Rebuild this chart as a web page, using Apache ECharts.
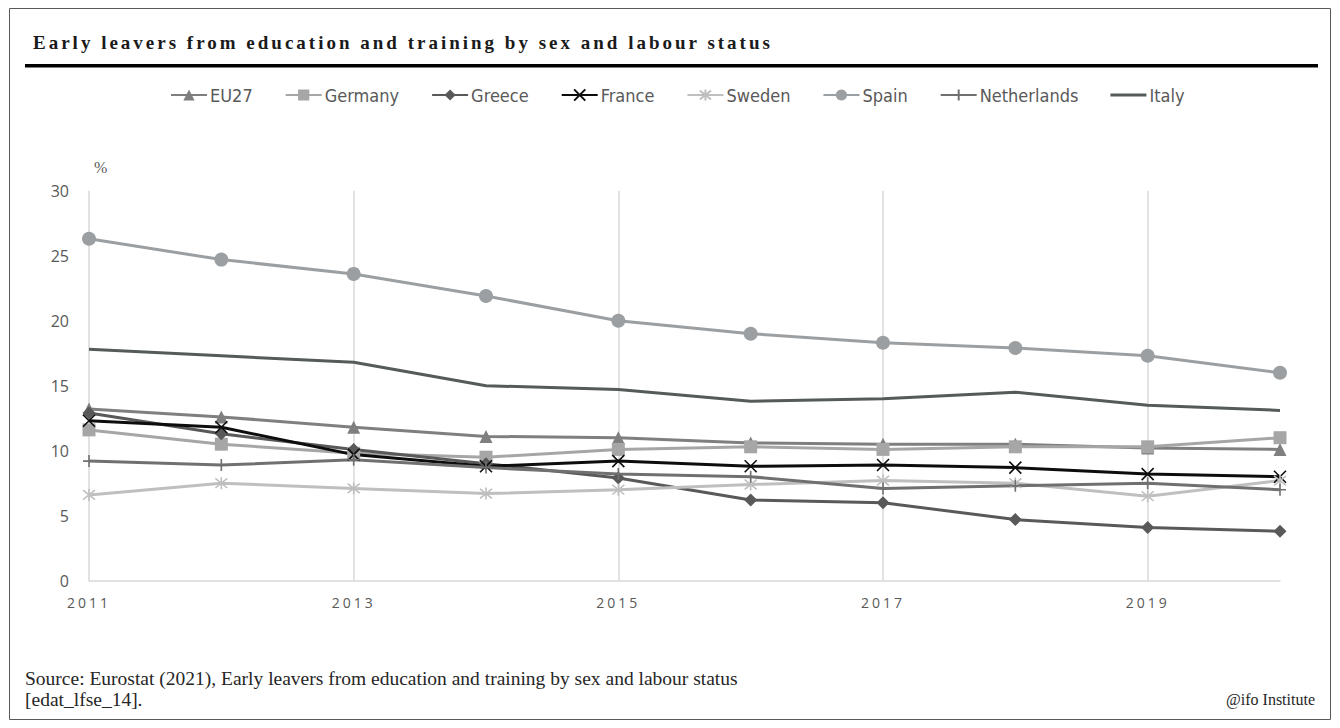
<!DOCTYPE html>
<html>
<head>
<meta charset="utf-8">
<script src="https://cdn.jsdelivr.net/npm/echarts@6/dist/echarts.min.js"></script>
<style>
html, body {margin: 0; padding: 0; background: #fff;}
#chart {width: 1340px; height: 728px;}
</style>
</head>
<body>
<div id="chart"></div>
<script>
// data (share of early leavers, %)
var years = ['2011', '2012', '2013', '2014', '2015', '2016', '2017', '2018', '2019', '2020'];
var eu27 = [13.2, 12.6, 11.8, 11.1, 11.0, 10.6, 10.5, 10.5, 10.2, 10.1];
var germany = [11.6, 10.5, 9.8, 9.5, 10.1, 10.3, 10.1, 10.3, 10.3, 11.0];
var greece = [12.9, 11.3, 10.1, 9.0, 7.9, 6.2, 6.0, 4.7, 4.1, 3.8];
var france = [12.3, 11.8, 9.7, 8.8, 9.2, 8.8, 8.9, 8.7, 8.2, 8.0];
var sweden = [6.6, 7.5, 7.1, 6.7, 7.0, 7.4, 7.7, 7.5, 6.5, 7.7];
var spain = [26.3, 24.7, 23.6, 21.9, 20.0, 19.0, 18.3, 17.9, 17.3, 16.0];
var netherlands = [9.2, 8.9, 9.3, 8.7, 8.2, 8.0, 7.1, 7.3, 7.5, 7.0];
var italy = [17.8, 17.3, 16.8, 15.0, 14.7, 13.8, 14.0, 14.5, 13.5, 13.1];

var titleText = 'Early leavers from education and training by sex and labour status';
var sourceLine1 = 'Source: Eurostat (2021), Early leavers from education and training by sex and labour status';
var sourceLine2 = '[edat_lfse_14].';
var creditText = '@ifo Institute';

var xMark = 'path://M0,0L10,10M10,0L0,10';
var starMark = 'path://M1,1L9,9M9,1L1,9M5,0L5,10';
var plusMark = 'path://M5,0L5,10M0,5L10,5';

function lineSeries(name, data, color, symbol, size, stroked) {
    return {
        name: name,
        type: 'line',
        data: data,
        symbol: symbol,
        symbolSize: size,
        showSymbol: symbol !== 'none',
        lineStyle: {color: color, width: 3},
        itemStyle: {
            color: color,
            borderColor: color,
            borderWidth: stroked ? 1.6 : 0
        },
        emphasis: {disabled: true}
    };
}

var myChart = echarts.init(document.getElementById('chart'), null, {renderer: 'svg'});

var option = {
    animation: false,
    grid: {left: 89, right: 60, top: 190.7, bottom: 147.3, outerBoundsMode: 'none'},
    legend: {
        left: 165,
        top: 81,
        itemWidth: 36,
        itemHeight: 14,
        itemGap: 32,
        data: ['EU27', 'Germany', 'Greece', 'France', 'Sweden', 'Spain', 'Netherlands',
            {name: 'Italy', icon: 'path://M0,0L36,0L36,3L0,3Z'}],
        textStyle: {
            color: '#595959',
            fontSize: 18,
            fontFamily: '"DejaVu Sans Condensed", "Liberation Sans Narrow", Roboto, sans-serif',
            padding: [0, 0, 0, -2]
        }
    },
    xAxis: {
        type: 'category',
        data: years,
        boundaryGap: false,
        axisLine: {lineStyle: {color: '#d9d9d9', width: 1.5}},
        axisTick: {show: false},
        axisLabel: {interval: 1, color: '#595959', fontSize: 14, fontFamily: '"Open Sans", sans-serif', margin: 15},
        splitLine: {show: true, interval: 1, lineStyle: {color: '#d9d9d9', width: 1.5}}
    },
    yAxis: {
        type: 'value',
        min: 0,
        max: 30,
        interval: 5,
        axisLine: {show: false},
        axisTick: {show: false},
        splitLine: {show: false},
        axisLabel: {color: '#595959', fontSize: 16, fontFamily: '"Open Sans", sans-serif', margin: 20},
        name: '%',
        nameLocation: 'end',
        nameGap: 15,
        nameTextStyle: {
            color: '#595959',
            fontSize: 16,
            fontFamily: '"Liberation Serif", serif',
            align: 'left',
            padding: [0, 0, 0, 5]
        }
    },
    series: [
        lineSeries('EU27', eu27, '#7f7f7f', 'triangle', 13, false),
        lineSeries('Germany', germany, '#a6a6a6', 'rect', 13, false),
        lineSeries('Greece', greece, '#595959', 'diamond', 13, false),
        lineSeries('France', france, '#0d0d0d', xMark, 12, true),
        lineSeries('Sweden', sweden, '#bfbfbf', starMark, 12, true),
        lineSeries('Spain', spain, '#9c9fa1', 'circle', 14, false),
        lineSeries('Netherlands', netherlands, '#707070', plusMark, 12, true),
        lineSeries('Italy', italy, '#555a5a', 'none', 1, false)
    ],
    graphic: [
        {
            type: 'rect',
            shape: {x: 9.5, y: 8.5, width: 1321, height: 711},
            style: {fill: 'none', stroke: '#595959', lineWidth: 1},
            silent: true
        },
        {
            type: 'text',
            x: 33,
            y: 42,
            style: {
                text: titleText,
                fill: '#1a1a1a',
                font: 'bold 19px "Liberation Serif", serif',
                verticalAlign: 'middle',
                align: 'left'
            }
        },
        {
            type: 'line',
            shape: {x1: 25, y1: 65.7, x2: 1318, y2: 65.7},
            style: {stroke: '#000', lineWidth: 3.5},
            silent: true
        },
        {
            type: 'text',
            x: 25,
            y: 678,
            style: {text: sourceLine1, fill: '#262626', font: '19.5px "Liberation Serif", serif', verticalAlign: 'middle'}
        },
        {
            type: 'text',
            x: 25,
            y: 699,
            style: {text: sourceLine2, fill: '#262626', font: '19.5px "Liberation Serif", serif', verticalAlign: 'middle'}
        },
        {
            type: 'text',
            x: 1315,
            y: 699,
            style: {text: creditText, fill: '#262626', font: '16px "Liberation Serif", serif', verticalAlign: 'middle', align: 'right'}
        }
    ]
};

myChart.setOption(option);

// the reference sets title and year labels with wide tracking
function trackText() {
    var texts = document.querySelectorAll('#chart svg text');
    texts.forEach(function (t) {
        var s = t.textContent;
        if (s === titleText) {
            t.setAttribute('letter-spacing', '3');
        } else if (/^20\d\d$/.test(s)) {
            t.setAttribute('letter-spacing', '3');
        }
    });
}
trackText();
myChart.on('finished', trackText);
setTimeout(trackText, 50);
</script>
</body>
</html>
